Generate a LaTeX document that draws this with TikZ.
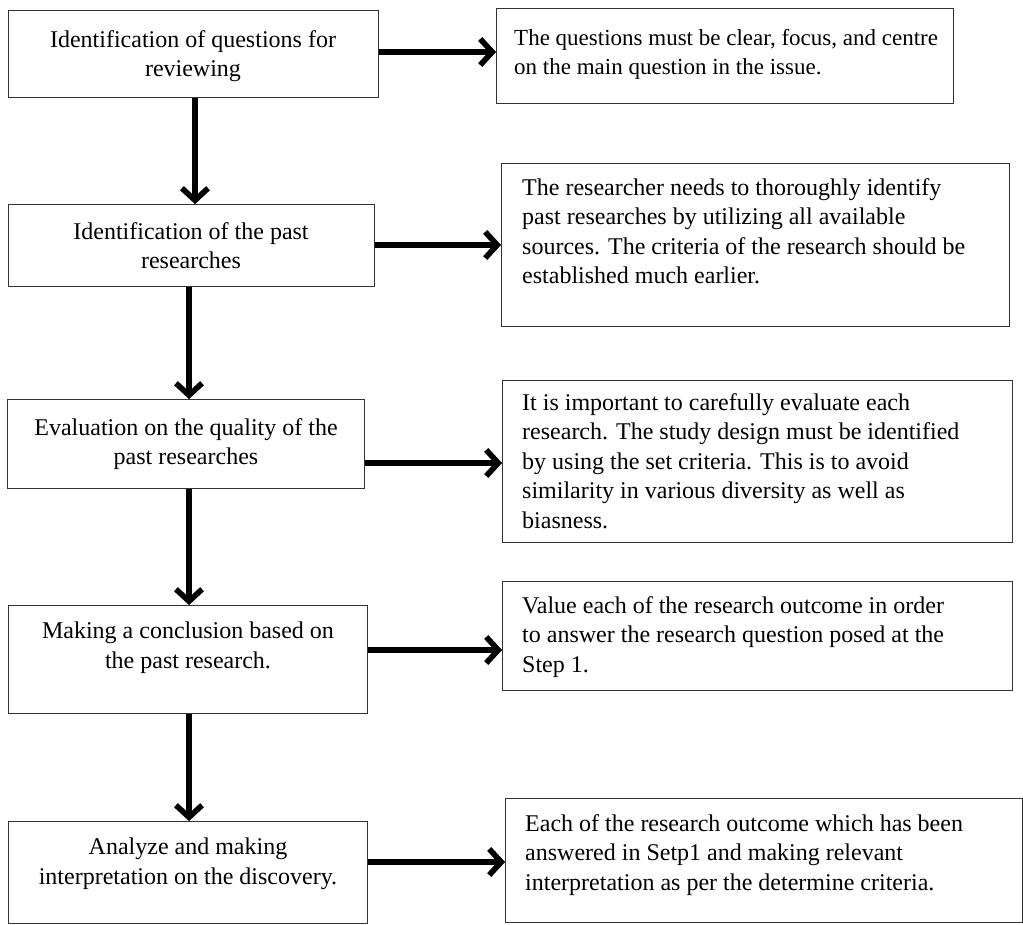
\documentclass[tikz,border=0pt]{standalone}
\usepackage{fontspec}
\setmainfont{Liberation Serif}
\usetikzlibrary{arrows.meta}
\tikzset{
  box/.style={draw=black!80, line width=1.4pt, fill=white, anchor=north west, inner sep=0pt},
  ltxt/.style={anchor=north, align=center, inner sep=0pt, font=\fontsize{24}{29.5}\selectfont},
  rtxt/.style={anchor=north west, align=left, inner sep=0pt, font=\fontsize{24}{29.5}\selectfont},
  flow/.style={line width=5.5pt, -{Straight Barb[length=12pt, width=26pt]}},
  flowshadow/.style={flow, draw=black!40, shift={(3,3)}}
}
\begin{document}
\begin{tikzpicture}[x=1pt, y=-1pt]
\useasboundingbox (0,0) rectangle (1023,924);
% left boxes
\node[box, minimum width=370pt, minimum height=87pt] (L1) at (8,10) {};
\node[box, minimum width=366pt, minimum height=82pt] (L2) at (8,204) {};
\node[box, minimum width=357pt, minimum height=89pt] (L3) at (7,399) {};
\node[box, minimum width=359pt, minimum height=108pt] (L4) at (8,605) {};
\node[box, minimum width=359pt, minimum height=102pt] (L5) at (8,821) {};
% right boxes
\node[box, minimum width=457pt, minimum height=95pt] (R1) at (496,8) {};
\node[box, minimum width=508pt, minimum height=163pt] (R2) at (501,163) {};
\node[box, minimum width=510pt, minimum height=162pt] (R3) at (502,380) {};
\node[box, minimum width=510pt, minimum height=109pt] (R4) at (502,581) {};
\node[box, minimum width=517pt, minimum height=124pt] (R5) at (505,798) {};
% left texts
\node[ltxt] (t1) at (193,30) {Identification of questions for\\reviewing};
\node[ltxt] (t2) at (191,222) {Identification of the past\\researches};
\node[ltxt] (t3) at (186,418) {Evaluation on the quality of the\\past researches};
\node[ltxt] (t4) at (188,622) {Making a conclusion based on\\the past research.};
\node[ltxt] (t5) at (188,838) {Analyze and making\\interpretation on the discovery.};
% right texts
\node[rtxt, font=\fontsize{23}{29.5}\selectfont] (u1) at (514,29) {The questions must be clear, focus, and centre\\on the main question in the issue.};
\node[rtxt] (u2) at (522,178) {The researcher needs to thoroughly identify\\past researches by utilizing all available\\sources. The criteria of the research should be\\established much earlier.};
\node[rtxt] (u3) at (522,393) {It is important to carefully evaluate each\\research. The study design must be identified\\by using the set criteria. This is to avoid\\similarity in various diversity as well as\\biasness.};
\node[rtxt] (u4) at (522,596) {Value each of the research outcome in order\\to answer the research question posed at the\\Step 1.};
\node[rtxt] (u5) at (525,814) {Each of the research outcome which has been\\answered in Setp1 and making relevant\\interpretation as per the determine criteria.};
% helper coordinates
\coordinate (h1) at (0,52);
\coordinate (h2) at (0,245);
\coordinate (h3) at (0,463);
\coordinate (h4) at (0,650);
\coordinate (h5) at (0,862);
\coordinate (v1) at (195,0);
\coordinate (v2) at (189,0);
% horizontal arrows
\foreach \i in {1,...,5}{
  \draw[flowshadow] (L\i.east |- h\i) -- (R\i.west |- h\i);
  \draw[flow] (L\i.east |- h\i) -- (R\i.west |- h\i);
}
% vertical arrows
\draw[flowshadow] (L1.south -| v1) -- (L2.north -| v1);
\draw[flow] (L1.south -| v1) -- (L2.north -| v1);
\foreach \a/\b in {2/3,3/4,4/5}{
  \draw[flowshadow] (L\a.south -| v2) -- (L\b.north -| v2);
  \draw[flow] (L\a.south -| v2) -- (L\b.north -| v2);
}
\end{tikzpicture}
\end{document}
